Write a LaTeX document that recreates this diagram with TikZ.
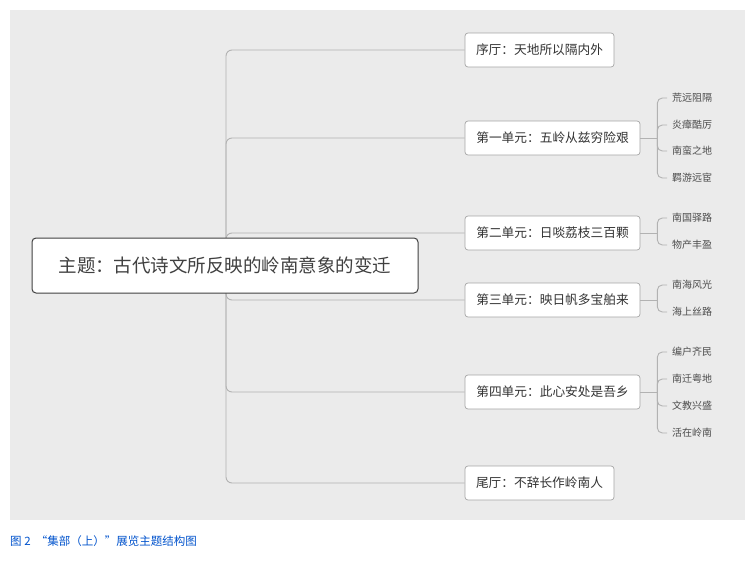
\documentclass[tikz,border=0pt]{standalone}
\usepackage{fontspec}
\newfontfamily\cjk{Noto Sans CJK SC}
\begin{document}
\begin{tikzpicture}[x=1pt,y=-1pt,
  ln/.style={draw=black!30,line width=0.9pt,rounded corners=6pt},
  br/.style={draw=black!35,fill=white,rounded corners=3pt,line width=0.7pt,font=\cjk\fontsize{12.7}{14}\selectfont,text=black!80,inner sep=0pt},
  lf/.style={font=\cjk\fontsize{10}{12}\selectfont,text=black!70,anchor=west,inner sep=0pt}]
\useasboundingbox (0,0) rectangle (756,562);
\fill[black!8] (10,10) rectangle (745,520);
\node[anchor=west,text=blue!60!cyan!80!black,font=\cjk\fontsize{11.5}{13}\selectfont,inner sep=0pt] (cap) at (10,541) {图 2 \ “集部（上）”展览主题结构图};
% branches
\node[br,minimum width=149pt,minimum height=34pt] (b0) at (539.5,50) {序厅：天地所以隔内外};
\node[br,minimum width=175pt,minimum height=34pt] (b1) at (552.5,138) {第一单元：五岭从兹穷险艰};
\node[br,minimum width=175pt,minimum height=34pt] (b2) at (552.5,233) {第二单元：日啖荔枝三百颗};
\node[br,minimum width=175pt,minimum height=34pt] (b3) at (552.5,300) {第三单元：映日帆多宝舶来};
\node[br,minimum width=175pt,minimum height=34pt] (b4) at (552.5,392) {第四单元：此心安处是吾乡};
\node[br,minimum width=149pt,minimum height=34pt] (b5) at (539.5,483) {尾厅：不辞长作岭南人};
\coordinate (t) at (226,265);
\foreach \b in {b0,b1,b2,b3,b4,b5}{
  \draw[ln] (t) -- (t|-\b.west) -- (\b.west);
}
\node[draw=black!75,fill=white,rounded corners=4pt,line width=1pt,minimum width=386pt,minimum height=55pt,inner sep=0pt,font=\cjk\fontsize{18.5}{22}\selectfont,text=black!75] (m) at (225,265.5) {主题：古代诗文所反映的岭南意象的变迁};
% leaves
\foreach \b/\n/\lst in {b1/1/{98/荒远阻隔,125/炎瘴酷厉,151/南蛮之地,178/羁游远宦},
  b2/2/{218/南国驿路,245/物产丰盈},
  b3/3/{285/南海风光,312/海上丝路},
  b4/4/{352/编户齐民,379/南迁粤地,406/文教兴盛,433/活在岭南}}{
  \coordinate (j\n) at ([xshift=17pt]\b.east);
  \draw[ln] (\b.east) -- (j\n);
  \foreach \y/\t in \lst{
    \node[lf] (l\n\y) at (672,\y) {\t};
    \draw[ln,rounded corners=5pt] (j\n) -- (j\n|-l\n\y.west) -- ([xshift=-5pt]l\n\y.west);
  }
}
\end{tikzpicture}
\end{document}
